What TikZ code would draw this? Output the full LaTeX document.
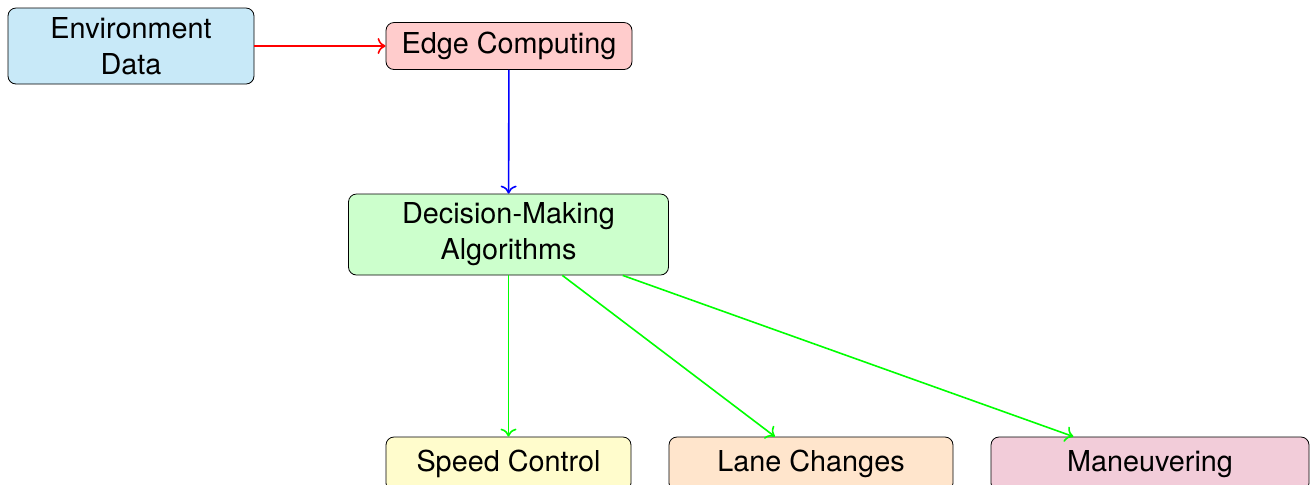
\documentclass[tikz,border=0pt]{standalone}
\usepackage{fontspec}
\setsansfont{TeX Gyre Heros}
\usetikzlibrary{arrows.meta}
\definecolor{envblue}{RGB}{200,233,248}
\tikzset{
  box/.style={draw=black, rounded corners=4pt, inner sep=0pt, align=center,
    font=\sffamily\Large},
  arr/.style={-{To[length=4pt,width=8pt]}, line width=0.8pt},
}
\begin{document}
\begin{tikzpicture}[x=0.5pt,y=-0.5pt]
\useasboundingbox (0,0) rectangle (1313,484);
\node[box, fill=envblue, minimum width=123pt, minimum height=38pt] (env) at (131,46) {Environment\\Data};
\node[box, fill=red!20, minimum width=123pt, minimum height=23.5pt] (edge) at (509,46) {Edge Computing};
\node[box, fill=green!20, minimum width=160pt, minimum height=40.5pt] (dm) at (508.5,234.5) {Decision-Making\\Algorithms};
\node[box, fill=yellow!20, minimum width=122.5pt, minimum height=27pt] (speed) at (508.5,464) {Speed Control};
\node[box, fill=orange!20, minimum width=142pt, minimum height=27pt] (lane) at (811,464) {Lane Changes};
\node[box, fill=purple!20, minimum width=159pt, minimum height=27pt] (man) at (1150,464) {Maneuvering};
\draw[arr, red] (env) -- (edge);
\draw[arr, blue] (edge) -- (dm);
\draw[arr, green] (dm) -- (speed);
\draw[arr, green] (dm) -- (lane);
\draw[arr, green] (dm) -- (man);
\end{tikzpicture}
\end{document}
